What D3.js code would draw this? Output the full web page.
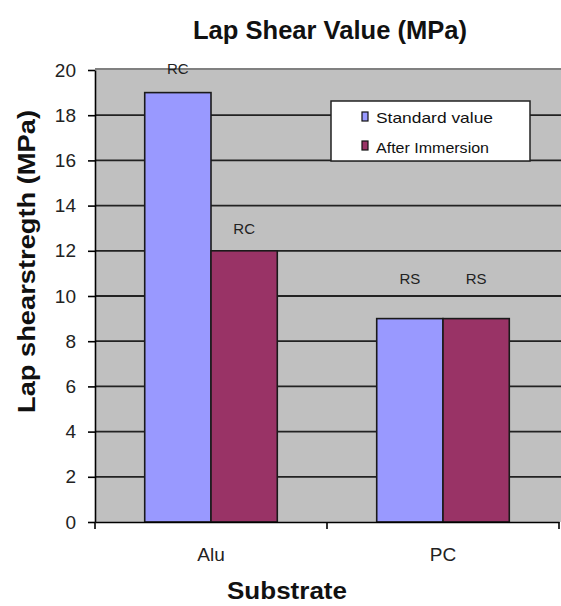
<!DOCTYPE html>
<html>
<head>
<meta charset="utf-8">
<script src="https://cdn.jsdelivr.net/npm/d3@7"></script>
<style>
  body { margin: 0; background: #fff; }
  text { font-family: "Liberation Sans", Arial, sans-serif; }
</style>
</head>
<body>
<svg id="chart" width="561" height="606"></svg>
<script>
// data
const categories = ["Alu", "PC"];
const seriesNames = ["Standard value", "After Immersion"];
const standardValues = [19, 9];
const immersionValues = [12, 9];
const standardLabels = ["RC", "RS"];
const immersionLabels = ["RC", "RS"];
// where the data labels sit, in MPa
const standardLabelAt = [20.1, 10.8];
const immersionLabelAt = [13.0, 10.8];
const yTicks = [0, 2, 4, 6, 8, 10, 12, 14, 16, 18, 20];
const colors = ["#9999ff", "#993366"];

let svg = d3.select("#chart");
let plotLeft = 95, plotRight = 559, plotTop = 70, plotBottom = 522;

let x = d3.scaleBand().domain(categories).range([plotLeft, plotRight]).padding(0);
let bw = x.bandwidth();
let x1 = d3.scaleBand().domain(seriesNames).range([bw * 0.2143, bw * 0.7857]).padding(0);
let y = d3.scaleLinear().domain([0, 20]).range([plotBottom, plotTop]);

// plot background
svg.append("rect")
    .attr("x", plotLeft).attr("y", plotTop - 1)
    .attr("width", 561 - plotLeft).attr("height", plotBottom - plotTop + 1)
    .attr("fill", "#c0c0c0");
svg.append("line")
    .attr("x1", plotLeft).attr("x2", 561)
    .attr("y1", plotTop - 1).attr("y2", plotTop - 1)
    .attr("stroke", "#808080").attr("stroke-width", 2);

// gridlines
svg.append("g").selectAll("line")
    .data(yTicks.filter(d => d > 0 && d < 20))
    .enter().append("line")
    .attr("x1", plotLeft).attr("x2", 561)
    .attr("y1", d => y(d)).attr("y2", d => y(d))
    .attr("stroke", "#222").attr("stroke-width", 1.8);

// legend
let lg = svg.append("g");
lg.append("rect")
    .attr("x", 331).attr("y", 101).attr("width", 199).attr("height", 60)
    .attr("fill", "#fff").attr("stroke", "#222").attr("stroke-width", 1.5);
seriesNames.forEach((s, i) => {
    lg.append("rect")
        .attr("x", 362).attr("y", 112 + i * 29).attr("width", 6).attr("height", 9)
        .attr("fill", colors[i]).attr("stroke", "#111").attr("stroke-width", 1.2);
    lg.append("text")
        .attr("x", 376).attr("y", 123 + i * 30)
        .attr("font-size", 15)
        .attr("textLength", i == 0 ? 117 : 113)
        .attr("lengthAdjust", "spacingAndGlyphs")
        .attr("fill", "#111")
        .text(s);
});

// bars
let rows = categories.map((c, i) => ({
    cat: c,
    vals: [standardValues[i], immersionValues[i]],
    labels: [standardLabels[i], immersionLabels[i]],
    labelAt: [standardLabelAt[i], immersionLabelAt[i]]
}));

let groups = svg.append("g").selectAll("g")
    .data(rows)
    .enter().append("g")
    .attr("transform", d => "translate(" + x(d.cat) + ",0)");

groups.selectAll("rect")
    .data(d => d.vals.map((v, j) => ({ s: seriesNames[j], v: v, j: j })))
    .enter().append("rect")
    .attr("x", d => x1(d.s))
    .attr("width", x1.bandwidth())
    .attr("y", d => y(d.v))
    .attr("height", d => plotBottom - y(d.v))
    .attr("fill", d => colors[d.j])
    .attr("stroke", "#1a1a1a").attr("stroke-width", 1.6);

groups.selectAll("text")
    .data(d => d.labels.map((l, j) => ({ s: seriesNames[j], l: l, at: d.labelAt[j] })))
    .enter().append("text")
    .attr("x", d => x1(d.s) + x1.bandwidth() / 2)
    .attr("y", d => y(d.at) + 6)
    .attr("text-anchor", "middle")
    .attr("font-size", 15)
    .attr("fill", "#222")
    .text(d => d.l);

// y axis
let yAxis = svg.append("g")
    .attr("transform", "translate(" + plotLeft + ",0)")
    .call(d3.axisLeft(y).tickValues(yTicks).tickSize(7).tickPadding(12).tickSizeOuter(0));
yAxis.select(".domain").attr("stroke", "#000").attr("stroke-width", 1.6);
yAxis.selectAll(".tick line").attr("stroke", "#000").attr("stroke-width", 1.6);
yAxis.selectAll(".tick text")
    .attr("font-size", 19).attr("fill", "#222")
    .attr("font-family", "Liberation Sans, Arial, sans-serif");

// x axis
let xAxis = svg.append("g")
    .attr("transform", "translate(0," + plotBottom + ")")
    .call(d3.axisBottom(x).tickSize(0).tickPadding(26));
xAxis.select(".domain").attr("stroke", "#000").attr("stroke-width", 1.6);
xAxis.selectAll(".tick text")
    .attr("font-size", 19).attr("fill", "#222")
    .attr("font-family", "Liberation Sans, Arial, sans-serif");
// category boundary ticks
xAxis.append("g").selectAll("line")
    .data(categories.concat(["end"]))
    .enter().append("line")
    .attr("x1", (d, i) => plotLeft + i * bw).attr("x2", (d, i) => plotLeft + i * bw)
    .attr("y1", 0).attr("y2", 7)
    .attr("stroke", "#000").attr("stroke-width", 1.6);

// titles
svg.append("text")
    .attr("x", 193).attr("y", 39)
    .attr("font-size", 26).attr("font-weight", "bold")
    .attr("textLength", 274).attr("lengthAdjust", "spacingAndGlyphs")
    .attr("fill", "#111")
    .text("Lap Shear Value (MPa)");

svg.append("text")
    .attr("x", 227).attr("y", 599)
    .attr("font-size", 23).attr("font-weight", "bold")
    .attr("textLength", 120).attr("lengthAdjust", "spacingAndGlyphs")
    .attr("fill", "#111")
    .text("Substrate");

svg.append("text")
    .attr("transform", "translate(35,413)rotate(-90)")
    .attr("font-size", 24).attr("font-weight", "bold")
    .attr("textLength", 303).attr("lengthAdjust", "spacingAndGlyphs")
    .attr("fill", "#111")
    .text("Lap shearstregth  (MPa)");
</script>
</body>
</html>
